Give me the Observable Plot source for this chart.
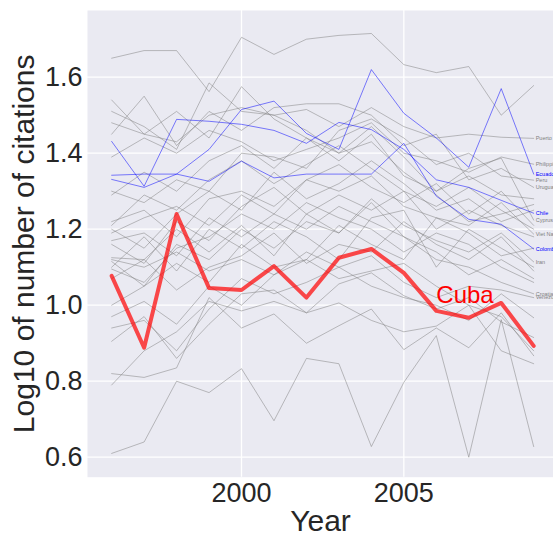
<!DOCTYPE html>
<html><head><meta charset="utf-8">
<script src="https://cdn.jsdelivr.net/npm/d3@7"></script>
<script src="https://cdn.jsdelivr.net/npm/@observablehq/plot@0.6"></script>
<style>
html,body{margin:0;padding:0;background:#fff;overflow:hidden;}
</style>
</head><body><div id="chart"></div>
<script>
const years = [1996,1997,1998,1999,2000,2001,2002,2003,2004,2005,2006,2007,2008,2009];
const xTicks = [2000, 2005];
const yTicks = [0.6, 0.8, 1.0, 1.2, 1.4, 1.6];

// Highlighted country
const cuba = [1.077,0.888,1.240,1.045,1.040,1.103,1.020,1.125,1.148,1.085,0.985,0.967,1.006,0.893];
const cubaLabel = [{year: 2006, value: 1.0, label: "Cuba"}];

// Blue (labelled) countries
const chile    = [1.431,1.313,1.489,1.484,1.476,1.460,1.426,1.481,1.462,1.410,1.330,1.310,1.276,1.242];
const ecuador  = [1.331,1.310,1.345,1.410,1.515,1.537,1.452,1.410,1.620,1.505,1.440,1.363,1.570,1.345];
const colombia = [1.342,1.345,1.345,1.326,1.379,1.335,1.345,1.345,1.345,1.426,1.287,1.226,1.213,1.148];

// Grey labelled countries
const puertoRico  = [1.480,1.450,1.430,1.500,1.520,1.500,1.515,1.470,1.520,1.470,1.440,1.450,1.442,1.439];
const philippines = [1.390,1.440,1.400,1.460,1.430,1.380,1.410,1.440,1.480,1.400,1.380,1.350,1.390,1.371];
const peru        = [1.300,1.270,1.330,1.300,1.400,1.390,1.360,1.460,1.490,1.440,1.370,1.400,1.340,1.329];
const uruguay     = [1.450,1.550,1.420,1.510,1.460,1.520,1.530,1.530,1.500,1.420,1.450,1.330,1.360,1.310];
const cyprus      = [1.540,1.450,1.510,1.440,1.575,1.490,1.440,1.400,1.470,1.390,1.300,1.360,1.387,1.224];
const vietNam     = [1.220,1.250,1.180,1.280,1.300,1.260,1.330,1.300,1.340,1.260,1.230,1.210,1.270,1.187];
const iran        = [1.115,1.050,1.160,1.120,1.200,1.150,1.220,1.190,1.280,1.210,1.170,1.140,1.190,1.114];
const croatia     = [1.170,1.190,1.130,1.230,1.180,1.240,1.200,1.260,1.220,1.180,1.120,1.100,1.060,1.030];
const venezuela   = [1.120,1.100,1.140,1.090,1.120,1.080,1.140,1.100,1.130,1.060,1.020,1.050,1.040,1.020];

// Grey unlabelled countries
const otherTop = [1.650,1.670,1.670,1.562,1.705,1.660,1.700,1.710,1.715,1.633,1.612,1.628,1.500,1.578];
const otherLow = [0.610,0.640,0.800,0.770,0.833,0.696,0.860,0.846,0.628,0.797,0.920,0.600,0.962,0.628];
const otherA = [1.510,1.470,1.410,1.585,1.510,1.500,1.460,1.400,1.430,1.350,1.290,1.220,1.240,1.265];
const otherB = [0.790,0.880,0.930,1.010,0.985,1.010,0.980,1.056,1.085,1.025,0.990,1.020,0.956,0.915];
const otherC = [0.820,0.810,0.835,1.020,0.940,0.977,0.900,0.946,0.990,0.883,0.940,0.888,0.980,0.867];
const otherD = [0.905,0.970,0.860,0.950,1.030,1.040,0.980,1.006,0.960,0.930,0.945,1.000,0.880,0.846];
const otherE = [0.940,0.960,0.880,0.990,1.070,1.030,1.060,1.100,1.050,1.020,1.000,0.960,1.030,0.967];
const otherF = [0.970,1.010,0.950,1.050,1.000,1.080,1.120,1.070,1.090,1.110,1.050,1.000,0.970,0.880];
const otherG = [1.125,1.120,1.200,1.140,1.210,1.130,1.240,1.190,1.270,1.180,1.140,1.080,1.120,1.070];
const otherH = [1.100,1.180,1.090,1.200,1.150,1.220,1.180,1.120,1.230,1.250,1.100,1.200,1.150,1.100];
const otherI = [1.095,1.060,1.150,1.180,1.240,1.200,1.270,1.230,1.200,1.140,1.190,1.160,1.100,1.060];
const otherJ = [1.070,1.120,1.040,1.100,1.130,1.190,1.110,1.160,1.140,1.220,1.160,1.120,1.180,1.090];
const otherK = [1.000,1.050,1.110,1.060,1.160,1.100,1.120,1.210,1.160,1.120,1.230,1.190,1.130,1.150];
const otherL = [1.160,1.110,1.220,1.170,1.260,1.310,1.240,1.290,1.250,1.300,1.200,1.250,1.210,1.180];
const otherM = [1.190,1.230,1.260,1.210,1.290,1.240,1.330,1.370,1.310,1.270,1.320,1.240,1.300,1.210];
const otherN = [1.200,1.150,1.240,1.300,1.250,1.350,1.280,1.320,1.380,1.320,1.250,1.280,1.220,1.250];
const otherO = [1.210,1.290,1.250,1.330,1.380,1.320,1.370,1.420,1.360,1.300,1.260,1.310,1.250,1.200];
const otherP = [1.290,1.350,1.300,1.380,1.420,1.360,1.440,1.380,1.450,1.340,1.300,1.340,1.290,1.280];

const blueSeries = [["Chile", chile], ["Ecuador", ecuador], ["Colombia", colombia]];
const greyLabelled = [["Puerto Rico", puertoRico], ["Philippines", philippines], ["Peru", peru],
  ["Uruguay", uruguay], ["Cyprus", cyprus], ["Viet Nam", vietNam], ["Iran", iran],
  ["Croatia", croatia], ["Venezuela", venezuela]];
const greyOthers = [["o1", otherTop], ["o2", otherLow], ["o3", otherA], ["o4", otherB], ["o5", otherC],
  ["o6", otherD], ["o7", otherE], ["o8", otherF], ["o9", otherG], ["o10", otherH], ["o11", otherI],
  ["o12", otherJ], ["o13", otherK], ["o14", otherL], ["o15", otherM], ["o16", otherN], ["o17", otherO], ["o18", otherP]];

const toRows = (list) => list.flatMap(([name, vals]) => vals.map((v, i) => ({country: name, year: years[i], value: v})));
const greyRows = toRows([...greyOthers, ...greyLabelled]);
const blueRows = toRows(blueSeries);
const cubaRows = toRows([["Cuba", cuba]]);
const lastOf = (list, color) => list.map(([name, vals]) => ({country: name, year: years[years.length-1], value: vals[vals.length-1], color}));
const labelRows = [...lastOf(greyLabelled, "#7f7f7f"), ...lastOf(blueSeries, "#0000ff")];

const font = "'Liberation Sans', Arial, Helvetica, sans-serif";

const chart = Plot.plot({
  width: 553,
  height: 533,
  marginLeft: 87,
  marginRight: 0,
  marginTop: 10,
  marginBottom: 56.3,
  x: {domain: [1995.256, 2009.61]},
  y: {domain: [0.5474, 1.7755]},
  style: {fontFamily: font, color: "#262626", background: "white"},
  marks: [
    Plot.frame({fill: "#eaeaf2", stroke: "none"}),
    Plot.gridX({ticks: xTicks, stroke: "white", strokeOpacity: 1, strokeWidth: 1.3}),
    Plot.gridY({ticks: yTicks, stroke: "white", strokeOpacity: 1, strokeWidth: 1.3}),
    Plot.axisX({ticks: xTicks, tickSize: 0, tickPadding: 6, fontSize: 27, tickFormat: d => String(d), label: null}),
    Plot.axisY({ticks: yTicks, tickSize: 0, tickPadding: 5, fontSize: 27, tickFormat: d3.format(".1f"), label: null}),
    Plot.line(greyRows, {x: "year", y: "value", z: "country", stroke: "gray", strokeOpacity: 0.5, strokeWidth: 1}),
    Plot.line(blueRows, {x: "year", y: "value", z: "country", stroke: "blue", strokeOpacity: 0.5, strokeWidth: 1}),
    Plot.line(cubaRows, {x: "year", y: "value", stroke: "red", strokeOpacity: 0.7, strokeWidth: 4}),
    Plot.text(labelRows, {x: "year", y: "value", text: "country", fill: "color", dx: 2, textAnchor: "start", fontSize: 5.5}),
    Plot.text(cubaLabel, {x: "year", y: "value", text: "label", fill: "red", fontSize: 24, textAnchor: "start", lineAnchor: "bottom", dy: -2}),
    Plot.text(["Year"], {text: d => d, frameAnchor: "bottom", textAnchor: "middle", lineAnchor: "bottom", dy: 54, fontSize: 30, fill: "#262626"}),
    Plot.text(["Log10 of number of citations"], {text: d => d, frameAnchor: "left", textAnchor: "middle", lineAnchor: "middle", rotate: -90, dx: -63, fontSize: 30, fill: "#262626"})
  ]
});
document.getElementById("chart").appendChild(chart);
</script>
</body></html>
